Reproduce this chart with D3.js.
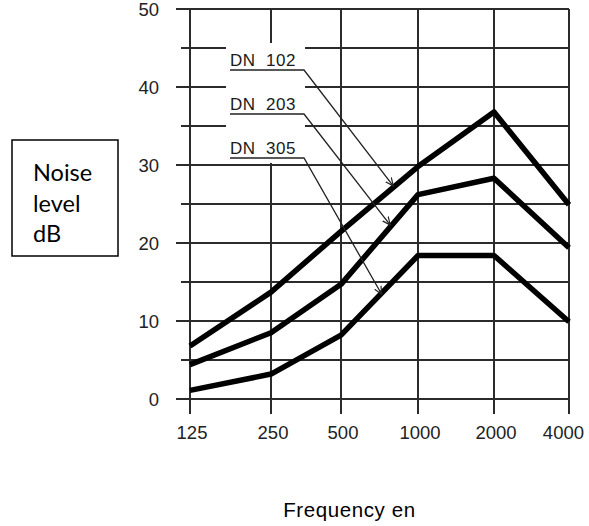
<!DOCTYPE html>
<html>
<head>
<meta charset="utf-8">
<script src="https://cdn.jsdelivr.net/npm/d3@7"></script>
<style>
  html, body { margin: 0; padding: 0; background: #fff; }
  svg { display: block; }
</style>
</head>
<body>
<svg id="chart" width="589" height="526"></svg>
<script>
// ---- Data ----
const frequencies = ["125", "250", "500", "1000", "2000", "4000"];
const seriesNames = ["DN  102", "DN  203", "DN  305"];
const dn102 = [6.8, 13.7, 21.5, 29.8, 36.8, 24.9];
const dn203 = [4.4, 8.5, 14.7, 26.2, 28.3, 19.4];
const dn305 = [1.1, 3.2, 8.2, 18.4, 18.4, 9.9];
const yTickValues = [0, 10, 20, 30, 40, 50];
const yMinorValues = [5, 15, 25, 35, 45];
// leader arrow targets: position between 500 and 1000 (fraction) and level in dB
const leaderFraction = [0.68, 0.64, 0.53];
const leaderLevel = [27.3, 22.3, 13.4];

const series = [dn102, dn203, dn305];

// ---- Layout ----
const W = 589;
const svg = d3.select("#chart");
// the original drawing's frequency columns are not perfectly evenly spaced
const x = d3.scaleOrdinal().domain(frequencies).range([190, 271, 341, 418, 494, 569]);
const y = d3.scaleLinear().domain([0, 50]).range([399, 9]);
const gridColor = "#2b2b2b";

// ---- Grid ----
const grid = svg.append("g");
grid.selectAll("line.v").data(frequencies).join("line")
  .attr("x1", d => x(d)).attr("x2", d => x(d))
  .attr("y1", y(50)).attr("y2", y(0) + 15)
  .attr("stroke", gridColor).attr("stroke-width", 2);
grid.selectAll("line.hmaj").data(yTickValues).join("line")
  .attr("x1", 176).attr("x2", x("4000"))
  .attr("y1", d => y(d)).attr("y2", d => y(d))
  .attr("stroke", gridColor).attr("stroke-width", 2);
grid.selectAll("line.hmin").data(yMinorValues).join("line")
  .attr("x1", 181).attr("x2", x("4000"))
  .attr("y1", d => y(d)).attr("y2", d => y(d))
  .attr("stroke", gridColor).attr("stroke-width", 2);

// white area behind legend labels
svg.append("rect")
  .attr("x", 226).attr("y", 43).attr("width", 79).attr("height", 120)
  .attr("fill", "#fff");

// ---- Axis labels ----
svg.append("g").selectAll("text").data(yTickValues).join("text")
  .attr("x", 159).attr("y", d => y(d) + 6.5)
  .attr("text-anchor", "end")
  .attr("font-family", "Liberation Sans, Arial, sans-serif")
  .attr("font-size", 18.5).attr("fill", "#222")
  .text(d => d);

svg.append("g").selectAll("text").data(frequencies).join("text")
  .attr("x", d => x(d) + 2).attr("y", 439)
  .attr("text-anchor", "middle")
  .attr("font-family", "Liberation Sans, Arial, sans-serif")
  .attr("font-size", 18.5).attr("fill", "#222")
  .text(d => d)
  .each(function () {
    // keep the last label inside the picture
    const b = this.getBBox();
    const over = b.x + b.width - (W - 5);
    if (over > 0) d3.select(this).attr("x", +d3.select(this).attr("x") - over);
  });

// ---- Curves ----
const line = d3.line()
  .x((d, i) => x(frequencies[i]))
  .y(d => y(d));

svg.append("g").selectAll("path").data(series).join("path")
  .attr("d", d => line(d))
  .attr("fill", "none")
  .attr("stroke", "#000")
  .attr("stroke-width", 5.5)
  .attr("stroke-linejoin", "round")
  .attr("stroke-linecap", "butt");

// ---- Legend labels with leader arrows ----
const defs = svg.append("defs");
defs.append("marker")
  .attr("id", "arrow")
  .attr("viewBox", "0 0 10 10")
  .attr("refX", 9).attr("refY", 5)
  .attr("markerWidth", 9).attr("markerHeight", 9)
  .attr("markerUnits", "userSpaceOnUse")
  .attr("orient", "auto")
  .append("path")
  .attr("d", "M0,1 L9,5 L0,9")
  .attr("fill", "none").attr("stroke", "#222").attr("stroke-width", 1.3);

const labelBaselines = [66, 110, 154];
const legend = svg.append("g");
seriesNames.forEach((name, i) => {
  const base = labelBaselines[i];
  legend.append("text")
    .attr("x", 230).attr("y", base)
    .attr("font-family", "Liberation Sans, Arial, sans-serif")
    .attr("font-size", 17)
    .attr("letter-spacing", 0.5)
    .attr("fill", "#1a1a1a")
    .style("white-space", "pre")
    .text(name);
  const tipX = x("500") + leaderFraction[i] * (x("1000") - x("500"));
  const tipY = y(leaderLevel[i]);
  legend.append("path")
    .attr("d", `M230,${base + 4} L304,${base + 4} L${tipX},${tipY}`)
    .attr("fill", "none")
    .attr("stroke", "#222")
    .attr("stroke-width", 1.3)
    .attr("marker-end", "url(#arrow)");
});

// ---- Y axis title box ----
svg.append("rect")
  .attr("x", 12).attr("y", 140).attr("width", 106).attr("height", 116)
  .attr("fill", "#fff").attr("stroke", "#000").attr("stroke-width", 1.5);
const yTitle = ["Noise", "level", "dB"];
svg.append("g").selectAll("text").data(yTitle).join("text")
  .attr("x", 33).attr("y", (d, i) => 181 + i * 30.5)
  .attr("font-family", "Lato, 'Open Sans', sans-serif")
  .attr("font-size", 23.5).attr("fill", "#000")
  .text(d => d);

// ---- X axis title ----
svg.append("text")
  .attr("x", 349.5).attr("y", 517)
  .attr("text-anchor", "middle")
  .attr("font-family", "Liberation Sans, Arial, sans-serif")
  .attr("font-size", 20.5).attr("letter-spacing", 0.6)
  .attr("fill", "#000")
  .text("Frequency en");
</script>
</body>
</html>
